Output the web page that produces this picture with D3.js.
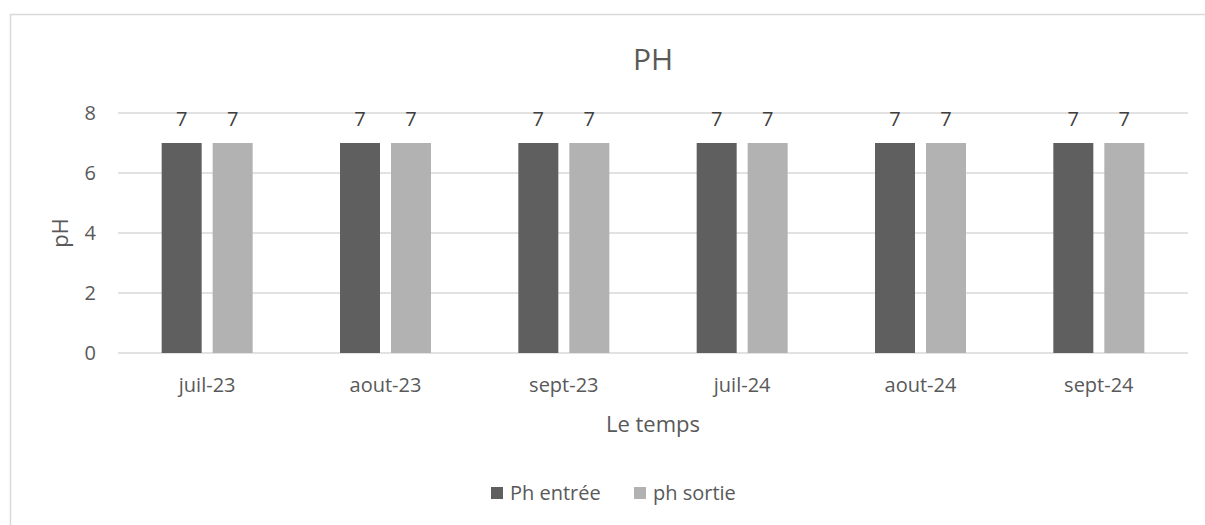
<!DOCTYPE html>
<meta charset="utf-8">
<head>
  <title>PH</title>
  <script src="https://d3js.org/d3.v7.min.js"></script>
  <style>
    body { margin: 0; background: #fff; }
    text { font-family: "Open Sans", "Noto Sans", sans-serif; fill: #595959; }
  </style>
</head>
<body>
  <svg id="chart" width="1205" height="525"></svg>
  <script>
    // data
    var months = ["juil-23", "aout-23", "sept-23", "juil-24", "aout-24", "sept-24"];
    var phEntree = [7, 7, 7, 7, 7, 7];
    var phSortie = [7, 7, 7, 7, 7, 7];
    var seriesNames = ["Ph entrée", "ph sortie"];
    var yTicks = [0, 2, 4, 6, 8];

    var svg = d3.select("#chart"),
        width = +svg.attr("width"),
        height = +svg.attr("height");

    var margin = {top: 113, right: 17, bottom: 172, left: 118};

    // chart frame
    svg.append("rect")
      .attr("x", 10.5).attr("y", 14.5)
      .attr("width", width + 20).attr("height", height + 20)
      .attr("fill", "none")
      .attr("stroke", "#d9d9d9")
      .attr("stroke-width", 1.5);

    var x0 = d3.scaleBand()
      .domain(months)
      .range([margin.left, width - margin.right]);

    var x1 = d3.scaleBand()
      .domain(seriesNames)
      .range([0, 91])
      .paddingInner(0.2157);

    var y = d3.scaleLinear()
      .domain([0, 8])
      .range([height - margin.bottom, margin.top]);

    var color = d3.scaleOrdinal()
      .domain(seriesNames)
      .range(["#5f5f5f", "#b2b2b2"]);

    // gridlines
    svg.append("g")
      .selectAll("line")
      .data(yTicks)
      .enter().append("line")
        .attr("x1", margin.left)
        .attr("x2", width - margin.right)
        .attr("y1", function(d) { return y(d); })
        .attr("y2", function(d) { return y(d); })
        .attr("stroke", "#d9d9d9")
        .attr("stroke-width", 1.5);

    // y tick labels
    svg.append("g")
      .selectAll("text")
      .data(yTicks)
      .enter().append("text")
        .attr("x", margin.left - 22)
        .attr("y", function(d) { return y(d); })
        .attr("dy", "0.35em")
        .attr("text-anchor", "end")
        .style("font-size", "20px")
        .text(function(d) { return d; });

    var rows = months.map(function(m, i) {
      return {month: m, values: [
        {name: seriesNames[0], value: phEntree[i]},
        {name: seriesNames[1], value: phSortie[i]}
      ]};
    });

    var groups = svg.append("g")
      .selectAll("g")
      .data(rows)
      .enter().append("g")
        .attr("transform", function(d) {
          return "translate(" + (x0(d.month) + x0.bandwidth() / 2 - 45.5) + ",0)";
        });

    groups.selectAll("rect")
      .data(function(d) { return d.values; })
      .enter().append("rect")
        .attr("x", function(d) { return x1(d.name); })
        .attr("y", function(d) { return y(d.value); })
        .attr("width", x1.bandwidth())
        .attr("height", function(d) { return y(0) - y(d.value); })
        .attr("fill", function(d) { return color(d.name); });

    groups.selectAll("text")
      .data(function(d) { return d.values; })
      .enter().append("text")
        .attr("x", function(d) { return x1(d.name) + x1.bandwidth() / 2; })
        .attr("y", function(d) { return y(d.value) - 17; })
        .attr("text-anchor", "middle")
        .style("font-size", "20px")
        .style("fill", "#404040")
        .text(function(d) { return d.value; });

    // x tick labels
    svg.append("g")
      .selectAll("text")
      .data(months)
      .enter().append("text")
        .attr("x", function(d) { return x0(d) + x0.bandwidth() / 2; })
        .attr("y", y(0) + 39)
        .attr("text-anchor", "middle")
        .style("font-size", "20px")
        .text(function(d) { return d; });

    // titles
    svg.append("text")
      .attr("x", (margin.left + width - margin.right) / 2)
      .attr("y", 70)
      .attr("text-anchor", "middle")
      .style("font-size", "30px")
      .text("PH");

    svg.append("text")
      .attr("x", (margin.left + width - margin.right) / 2)
      .attr("y", 432)
      .attr("text-anchor", "middle")
      .style("font-size", "22px")
      .text("Le temps");

    svg.append("text")
      .attr("transform", "translate(68," + y(4) + ") rotate(-90)")
      .attr("text-anchor", "middle")
      .style("font-size", "22px")
      .text("pH");

    // legend
    var legend = svg.append("g")
      .selectAll("g")
      .data(seriesNames)
      .enter().append("g")
        .attr("transform", function(d, i) { return "translate(" + (491 + i * 143) + ",487)"; });

    legend.append("rect")
      .attr("width", 12)
      .attr("height", 12)
      .attr("fill", color);

    legend.append("text")
      .attr("x", 19)
      .attr("y", 6)
      .attr("dy", "0.35em")
      .style("font-size", "20px")
      .text(function(d) { return d; });
  </script>
</body>
</html>
